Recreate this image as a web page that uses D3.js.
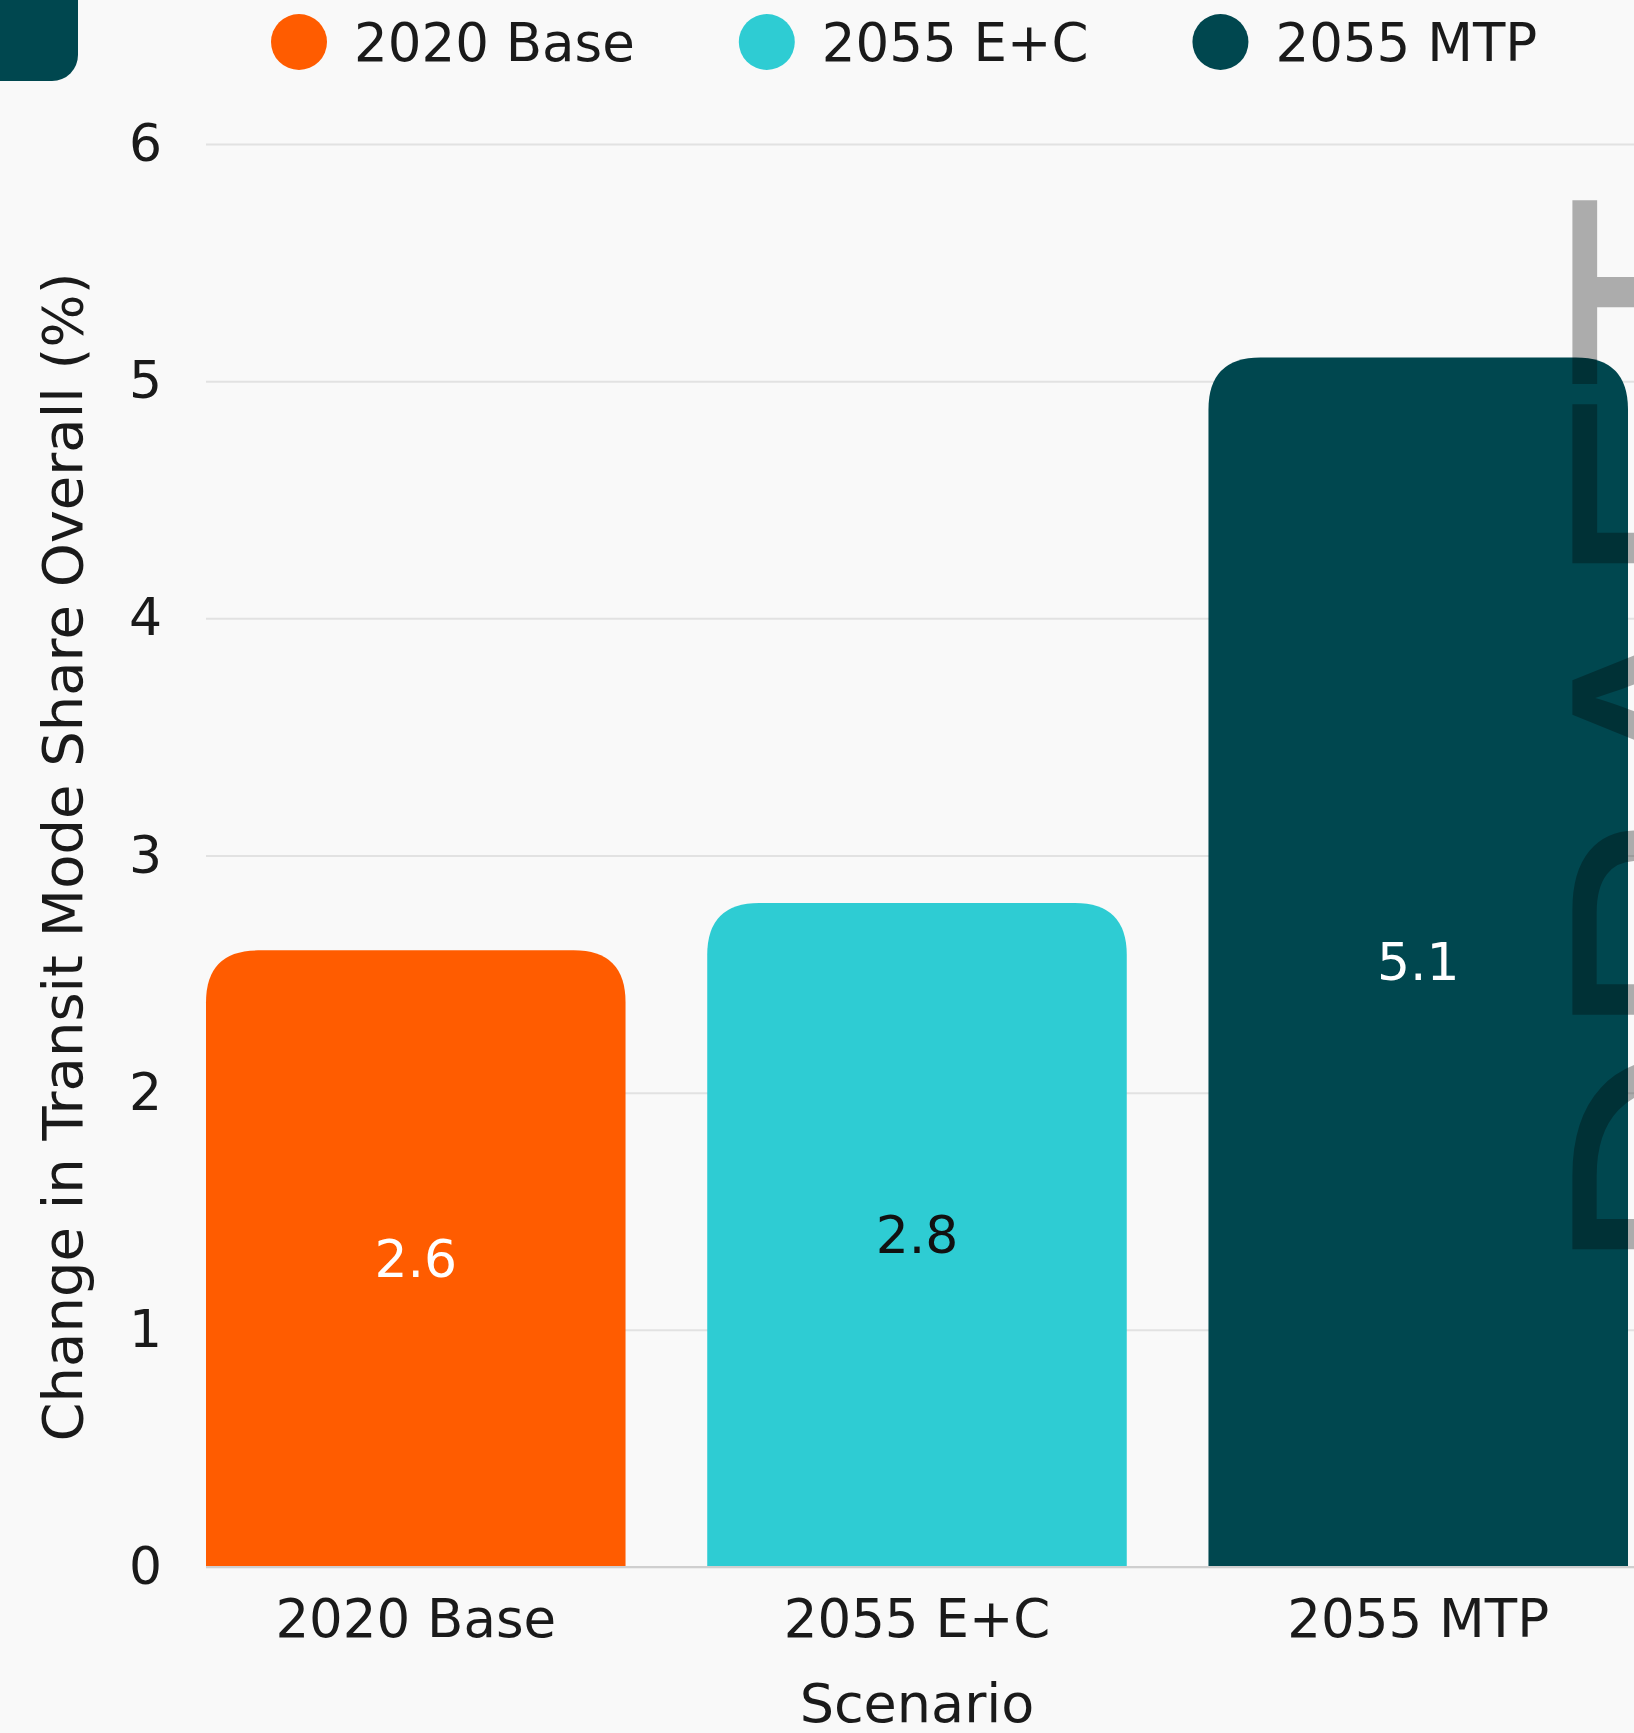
<!DOCTYPE html>
<html>
<head>
<meta charset="utf-8">
<script src="https://cdn.jsdelivr.net/npm/d3@7"></script>
<style>
  html, body { margin: 0; padding: 0; background: #f9f9f9; }
  svg { display: block; font-family: "DejaVu Sans", sans-serif; }
</style>
</head>
<body>
<svg id="chart"></svg>
<script>
(function(){
    let W = 1634, H = 1733;

    // data
    const categories = ["2020 Base", "2055 E+C", "2055 MTP"];
    const values = [2.6, 2.8, 5.1];
    const colors = ["#FF5C00", "#2ECCD3", "#00474F"];
    const labelColors = ["#ffffff", "#111111", "#ffffff"];
    const yTicks = [0, 1, 2, 3, 4, 5, 6];

    let svg = d3.select("#chart").attr("width", W).attr("height", H);

    svg.append("rect")
        .attr("width", W).attr("height", H)
        .attr("fill", "#f9f9f9");

    // corner tab top left
    svg.append("rect")
        .attr("x", -40).attr("y", -40)
        .attr("width", 118).attr("height", 121)
        .attr("rx", 26)
        .attr("fill", "#00474F");

    let x = d3.scaleBand()
        .domain(categories)
        .range([206, 1628])
        .paddingInner(0.163)
        .paddingOuter(0);

    let y = d3.scaleLinear()
        .domain([0, 6])
        .range([1567, 144]);

    // y axis + grid
    let yAxis = svg.append("g")
        .attr("transform", "translate(206,0)")
        .call(d3.axisLeft(y).tickValues(yTicks).tickFormat(d3.format("d"))
            .tickSize(-(W - 206)).tickPadding(44))
        .attr("font-family", null);
    yAxis.select(".domain").remove();
    yAxis.selectAll(".tick line")
        .attr("stroke", "#e2e2e2")
        .attr("stroke-width", 2);
    yAxis.selectAll(".tick text")
        .attr("font-size", 52)
        .attr("fill", "#1a1a1a");

    // bars, rounded top corners
    let r = 52;
    function barPath(d, i) {
        let x0 = x(categories[i]), x1 = x0 + x.bandwidth();
        let y0 = y(0), y1 = y(d);
        return "M" + x0 + "," + y0 +
            "V" + (y1 + r) +
            "Q" + x0 + "," + y1 + " " + (x0 + r) + "," + y1 +
            "H" + (x1 - r) +
            "Q" + x1 + "," + y1 + " " + x1 + "," + (y1 + r) +
            "V" + y0 + "Z";
    }

    svg.append("g").selectAll("path")
        .data(values)
        .join("path")
        .attr("d", barPath)
        .attr("fill", (d, i) => colors[i]);

    // baseline
    svg.append("line")
        .attr("x1", 206).attr("x2", W)
        .attr("y1", y(0)).attr("y2", y(0))
        .attr("stroke", "#cfcfcf")
        .attr("stroke-width", 2);

    // value labels
    svg.append("g").selectAll("text")
        .data(values)
        .join("text")
        .attr("x", (d, i) => x(categories[i]) + x.bandwidth() / 2)
        .attr("y", d => (y(0) + y(d)) / 2)
        .attr("text-anchor", "middle")
        .attr("dominant-baseline", "central")
        .attr("font-size", 52)
        .attr("fill", (d, i) => labelColors[i])
        .text(d => d3.format(".1f")(d));

    // x axis
    let xAxis = svg.append("g")
        .attr("transform", "translate(0," + y(0) + ")")
        .call(d3.axisBottom(x).tickSize(0).tickPadding(32))
        .attr("font-family", null);
    xAxis.select(".domain").remove();
    xAxis.selectAll(".tick text")
        .attr("font-size", 53)
        .attr("fill", "#1a1a1a");

    // axis titles
    svg.append("text")
        .attr("x", (206 + 1628) / 2)
        .attr("y", 1722)
        .attr("text-anchor", "middle")
        .attr("font-size", 54)
        .attr("fill", "#1a1a1a")
        .text("Scenario");

    svg.append("text")
        .attr("transform", "translate(82,857) rotate(-90)")
        .attr("text-anchor", "middle")
        .attr("font-size", 56)
        .attr("fill", "#1a1a1a")
        .text("Change in Transit Mode Share Overall (%)");

    // legend
    let lx = 271;
    categories.forEach(function (c, i) {
        let g = svg.append("g").attr("transform", "translate(" + lx + ",42)");
        g.append("circle")
            .attr("cx", 28).attr("cy", 0).attr("r", 28)
            .attr("fill", colors[i]);
        let t = g.append("text")
            .attr("x", 83).attr("y", 0)
            .attr("dominant-baseline", "central")
            .attr("font-size", 53)
            .attr("fill", "#1a1a1a")
            .text(c);
        lx += 83 + t.node().getComputedTextLength() + 104;
    });

    // watermark
    svg.append("text")
        .attr("transform", "translate(1796,1276) rotate(-90)")
        .attr("font-family", "'Liberation Sans', Arial, sans-serif")
        .attr("font-size", 325)
        .attr("fill", "#000")
        .attr("fill-opacity", 0.31)
        .text("DRAFT");
})();
</script>
</body>
</html>
